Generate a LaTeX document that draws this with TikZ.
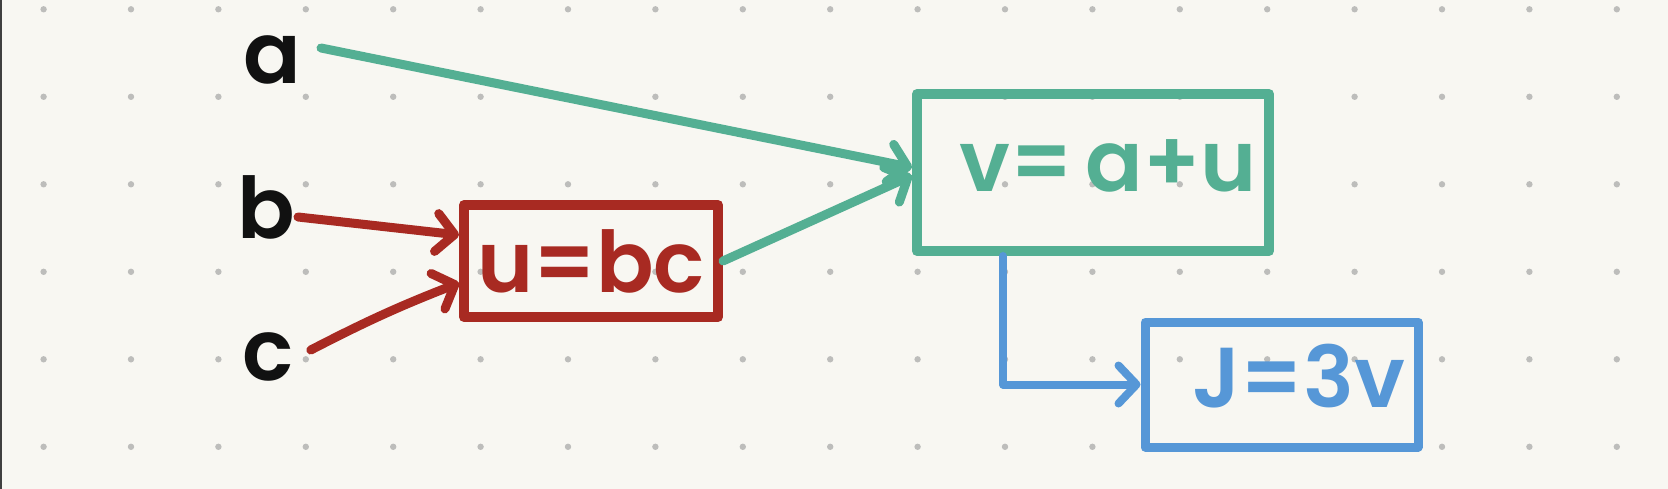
\documentclass[tikz,border=0pt]{standalone}
\usepackage{fontspec}
\setmainfont{Poppins SemiBold}
\usepackage{tikz}
\usetikzlibrary{positioning,arrows.meta}
\definecolor{paper}{HTML}{F8F7F2}
\definecolor{dotgray}{HTML}{BDBDBB}
\definecolor{inkred}{HTML}{A82A22}
\definecolor{inkgreen}{HTML}{54AF93}
\definecolor{inkblue}{HTML}{5697D7}
\definecolor{ink}{HTML}{111111}

\begin{document}
\begin{tikzpicture}[
    x=1pt, y=-1pt,
    >={Straight Barb[length=18pt,width=38pt,round]},
    line cap=round, line join=round,
    hand/.style={font=\fontsize{85}{90}\selectfont},
    var/.style={hand, text=ink, inner sep=2pt},
    opbox/.style={hand, draw=#1, text=#1, line width=10pt, inner sep=0pt},
    wire/.style={draw=#1, line width=9pt, ->}
]

\fill[paper] (0,0) rectangle (1668,489);
\useasboundingbox (0,0) rectangle (1668,489);
\draw[line width=2.5pt, black!75] (1,0) -- (1,489);
\foreach \i in {0,...,18}
  \foreach \j in {0,...,5}
    \fill[dotgray] (43.6+87.4*\i, 9.3+87.5*\j) circle (3.2pt);

\node[var] (a) at (272,60) {a};
\node[var] (b) at (266,207) {b};
\node[var] (c) at (268,357) {c};

\node[opbox=inkred, minimum width=254pt, minimum height=112pt] (mul) at (591,261) {u=bc};
\node[opbox=inkgreen, text depth=14pt, minimum width=352pt, minimum height=157pt] (add) at (1093,172.5) {\hspace{30pt}v=\hspace{0.15em}a+u};
\node[opbox=inkblue, line width=9pt, text depth=18pt, minimum width=273pt, minimum height=125pt] (cost) at (1281.5,384.5) {\hspace{0.4em}J=3v};

\draw[wire=inkgreen] ([shift={(18,-12)}]a.east) -- ([yshift=5pt]add.west);
\draw[wire=inkred] ([shift={(1,10)}]b.east) -- ([yshift=26pt]mul.west);
\draw[wire=inkred] ([shift={(15,-7)}]c.east) to[bend left=3] ([yshift=-22pt]mul.west);
\draw[wire=inkgreen] (mul.east) -- ([yshift=-3pt]add.west);
\draw[wire=inkblue, line width=8pt] ([xshift=-90pt]add.south) |- (cost.west);

\end{tikzpicture}
\end{document}
